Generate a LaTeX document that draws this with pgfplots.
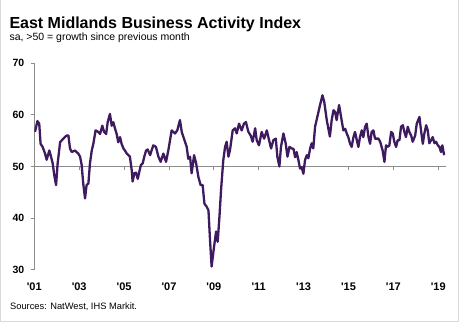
\documentclass[border=0pt]{standalone}
\usepackage{pgfplots}
\pgfplotsset{compat=1.18}
\usepackage{fontspec}
\setmainfont{Liberation Sans}
\definecolor{lineP}{RGB}{62,26,94}
\definecolor{axisgray}{RGB}{140,140,140}
\definecolor{framegray}{RGB}{217,217,217}
\begin{document}
\begin{tikzpicture}[x=1pt,y=1pt]
\path[use as bounding box] (0,0) rectangle (461,323);
\draw[framegray,line width=1pt] (0.5,323) -- (0.5,1.5) -- (458.5,1.5) -- (458.5,323);
\node[anchor=base west,inner sep=0pt,font=\bfseries\fontsize{16}{19}\selectfont] at (9.3,294.7) {East Midlands Business Activity Index};
\node[anchor=base west,inner sep=0pt,font=\fontsize{10.5}{12}\selectfont] at (9.3,282.3) {sa, >50 = growth since previous month};
\node[anchor=base west,inner sep=0pt,font=\fontsize{9.3}{11}\selectfont] at (10,13) {Sources: NatWest, IHS Markit.};
% reference line at 50 with its ticks
\begin{axis}[at={(34.3pt,156.7pt)},anchor=south west,scale only axis,
  width=411.4pt,height=10pt,xmin=2001,xmax=2019.33,ymin=0,ymax=1,
  axis x line*=bottom,axis y line=none,
  xtick={2003,2005,...,2019},xticklabels={},
  tick align=outside,major tick length=3.5pt,
  x axis line style={draw=axisgray,line width=0.8pt,-},
  every tick/.style={axisgray,line width=0.8pt}]
\addplot[draw=none] coordinates {(2001,0.5)};
\end{axis}
\begin{axis}[at={(34.3pt,53.3pt)},anchor=south west,scale only axis,
  width=411.4pt,height=206.4pt,
  xmin=2001,xmax=2019.33,ymin=30,ymax=70,
  axis y line*=left,axis x line*=bottom,
  x axis line style={draw=none},
  y axis line style={draw=axisgray,line width=0.8pt,-},
  ytick={30,40,50,60,70},
  xtick={2001,2003,...,2019},
  xticklabels={\textquotesingle01,\textquotesingle03,\textquotesingle05,\textquotesingle07,\textquotesingle09,\textquotesingle11,\textquotesingle13,\textquotesingle15,\textquotesingle17,\textquotesingle19},
  tick align=outside,major tick length=3.5pt,
  major x tick style={draw=none},
  major y tick style={axisgray,line width=0.8pt},
  /pgf/number format/assume math mode=true,
  yticklabel style={font=\bfseries\fontsize{10.5}{12}\selectfont,text=black,xshift=-3pt},
  xticklabel style={font=\bfseries\fontsize{11}{13}\selectfont,text=black,yshift=-6pt},
]
\addplot[lineP,line width=2.3pt,line join=round,no marks] coordinates {
(2001.03,56.7)(2001.14,58.8)(2001.22,58.3)(2001.28,54.4)(2001.37,53.8)(2001.48,52.5)(2001.55,51.3)(2001.67,53.1)(2001.74,52.0)(2001.82,50.6)(2001.89,48.3)(2001.97,46.4)
(2002.04,50.6)(2002.15,54.7)(2002.29,55.4)(2002.44,56.0)(2002.52,56.0)(2002.59,53.5)(2002.67,52.8)(2002.81,53.1)(2002.96,52.5)
(2003.04,51.9)(2003.11,50.3)(2003.18,46.7)(2003.26,43.8)(2003.33,46.4)(2003.41,46.7)(2003.48,50.6)(2003.56,53.1)(2003.63,54.4)(2003.73,57.0)(2003.85,56.7)(2003.93,56.3)
(2004.03,57.9)(2004.11,56.7)(2004.20,56.3)(2004.27,58.6)(2004.37,60.2)(2004.45,57.9)(2004.52,58.6)(2004.60,57.3)(2004.67,56.3)(2004.74,54.7)(2004.82,55.7)(2004.89,54.4)(2004.97,53.5)
(2005.04,53.1)(2005.12,52.5)(2005.19,52.2)(2005.26,51.9)(2005.34,49.3)(2005.38,47.1)(2005.46,48.7)(2005.53,48.8)(2005.61,47.6)(2005.68,49.0)(2005.75,50.3)(2005.83,50.6)(2005.90,51.9)(2005.98,53.1)
(2006.05,53.3)(2006.16,52.2)(2006.30,54.1)(2006.42,53.8)(2006.53,51.9)(2006.63,50.9)(2006.75,52.5)(2006.87,50.9)(2006.97,53.1)
(2007.12,57.0)(2007.27,56.4)(2007.37,57.0)(2007.49,59.0)(2007.57,56.7)(2007.69,55.1)(2007.79,53.8)(2007.86,51.5)(2007.94,51.9)
(2008.01,48.7)(2008.12,52.2)(2008.21,50.6)(2008.31,48.0)(2008.41,46.4)(2008.50,46.4)(2008.58,42.8)(2008.68,42.2)(2008.76,41.5)(2008.83,35.7)(2008.90,30.6)
(2009.01,34.5)(2009.10,37.4)(2009.17,35.4)(2009.25,40.3)(2009.32,45.4)(2009.42,51.2)(2009.50,53.8)(2009.57,54.8)(2009.65,51.9)(2009.72,53.2)(2009.84,57.0)(2009.94,57.4)
(2010.02,56.4)(2010.12,58.3)(2010.24,57.0)(2010.34,58.3)(2010.43,58.6)(2010.54,56.7)(2010.64,56.0)(2010.73,54.8)(2010.84,57.4)(2010.91,55.1)
(2011.01,54.1)(2011.13,56.7)(2011.24,55.4)(2011.36,57.0)(2011.46,55.1)(2011.55,53.5)(2011.65,55.1)(2011.76,55.4)(2011.83,51.9)(2011.92,50.0)(2011.99,53.8)
(2012.10,56.4)(2012.20,54.5)(2012.28,51.9)(2012.37,53.8)(2012.47,53.5)(2012.55,53.4)(2012.62,51.8)(2012.69,52.8)(2012.77,51.2)(2012.84,49.6)(2012.91,49.9)(2012.99,48.6)
(2013.06,51.2)(2013.14,52.2)(2013.21,51.6)(2013.29,53.5)(2013.36,54.5)(2013.43,53.5)(2013.51,57.7)(2013.61,59.6)(2013.73,61.9)(2013.84,63.8)(2013.92,62.5)
(2014.03,59.0)(2014.17,55.8)(2014.25,59.0)(2014.33,60.9)(2014.40,60.6)(2014.47,59.0)(2014.58,61.9)(2014.67,59.6)(2014.77,57.0)(2014.85,57.3)(2014.92,56.4)(2014.99,55.7)
(2015.07,54.4)(2015.14,53.8)(2015.22,55.7)(2015.29,56.7)(2015.37,55.1)(2015.44,53.8)(2015.51,55.7)(2015.59,57.0)(2015.66,55.7)(2015.74,57.7)(2015.81,58.3)(2015.89,55.7)(2015.96,54.4)
(2016.03,56.7)(2016.11,57.0)(2016.18,55.4)(2016.26,55.4)(2016.33,55.4)(2016.41,54.8)(2016.52,53.1)(2016.60,50.9)(2016.67,54.1)(2016.75,53.8)(2016.82,54.1)(2016.90,56.7)(2016.97,56.4)
(2017.04,54.8)(2017.12,53.8)(2017.19,55.1)(2017.27,55.1)(2017.34,57.7)(2017.42,58.0)(2017.49,56.7)(2017.56,55.7)(2017.64,57.7)(2017.71,56.7)(2017.79,56.0)(2017.86,54.8)(2017.97,56.0)
(2018.04,58.3)(2018.16,59.6)(2018.23,57.0)(2018.31,54.4)(2018.38,56.4)(2018.46,58.0)(2018.53,57.0)(2018.60,54.5)(2018.68,55.1)(2018.75,55.7)(2018.83,54.5)(2018.90,54.8)(2018.98,54.1)
(2019.05,53.8)(2019.12,52.8)(2019.18,54.1)(2019.26,52.2)
};
\end{axis}
\end{tikzpicture}
\end{document}
